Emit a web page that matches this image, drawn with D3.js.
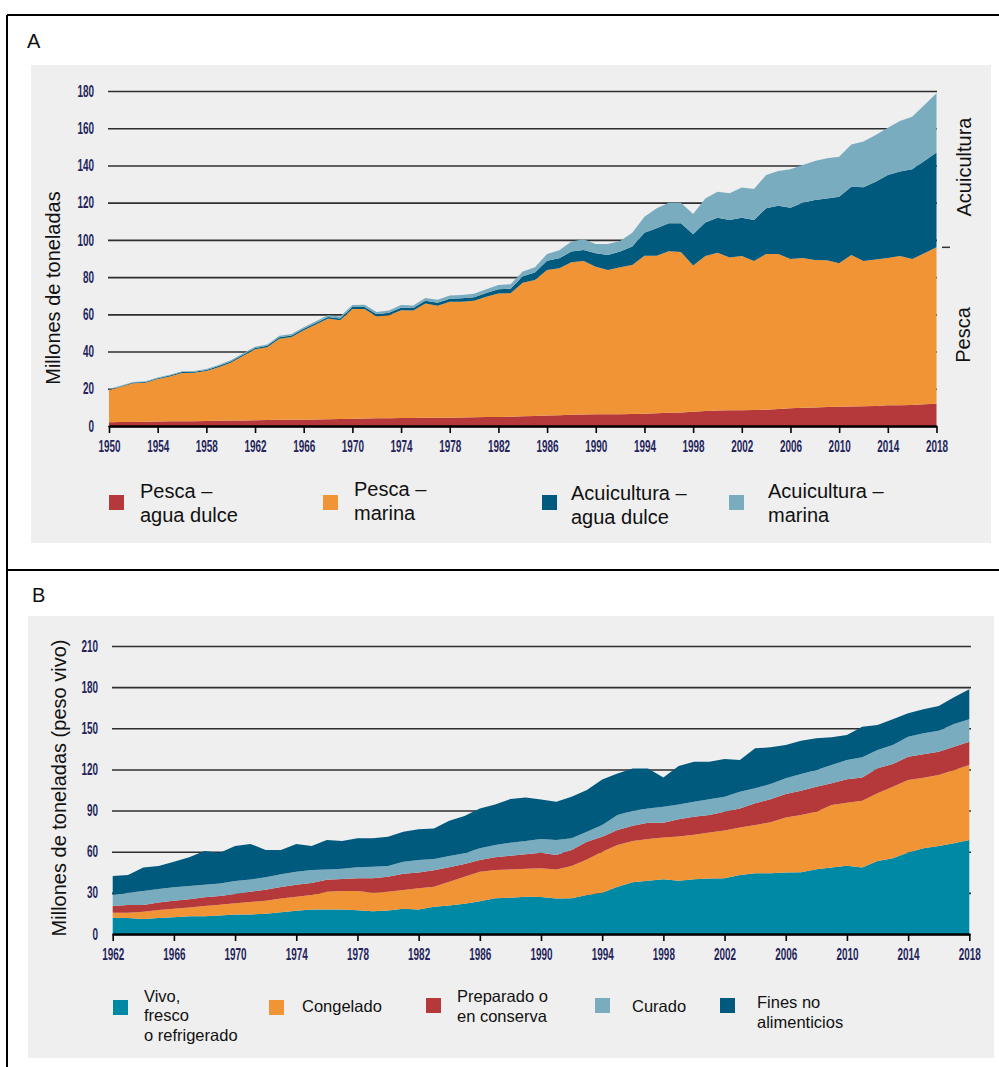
<!DOCTYPE html>
<html lang="es">
<head>
<meta charset="utf-8">
<title>Producción pesquera y acuícola mundial</title>
<script src="https://cdn.jsdelivr.net/npm/d3@7"></script>
<style>
  html, body { margin: 0; padding: 0; background: #ffffff; }
  svg { display: block; }
</style>
</head>
<body>
<svg id="chart" width="999" height="1067"></svg>
<script>
// ---------- Panel A: producción por origen (millones de toneladas), 1950–2018 ----------
const yearsA = d3.range(1950, 2019);
const pescaAguaDulce = [
  2.0, 2.1, 2.2, 2.3, 2.4, 2.5, 2.6, 2.6, 2.7, 2.8,
  2.9, 3.0, 3.1, 3.2, 3.3, 3.3, 3.4, 3.5, 3.6, 3.7,
  3.9, 4.0, 4.1, 4.2, 4.3, 4.3, 4.4, 4.5, 4.5, 4.6,
  4.7, 4.8, 4.9, 5.0, 5.2, 5.4, 5.6, 5.8, 6.0, 6.2,
  6.3, 6.3, 6.3, 6.4, 6.6, 6.9, 7.1, 7.3, 7.7, 8.0,
  8.3, 8.4, 8.5, 8.6, 8.7, 9.2, 9.5, 9.8, 10.0, 10.2,
  10.4, 10.5, 10.6, 10.7, 11.1, 11.2, 11.3, 11.7, 11.9
];
const pescaMarina = [
  17.3, 19.0, 20.8, 21.0, 22.9, 24.1, 25.9, 26.0, 26.8, 28.8,
  31.1, 34.6, 38.1, 39.1, 43.6, 44.5, 48.0, 51.0, 54.1, 53.1,
  58.9, 58.8, 54.7, 55.3, 57.9, 57.7, 61.4, 60.1, 62.2, 62.2,
  62.6, 64.6, 66.3, 66.3, 71.8, 73.1, 78.2, 78.9, 82.0, 82.5,
  79.3, 77.5, 79.0, 80.1, 84.9, 84.6, 86.8, 86.2, 78.5, 83.3,
  84.8, 82.2, 82.8, 80.1, 83.7, 83.2, 80.2, 80.5, 79.2, 78.8,
  77.0, 81.4, 78.1, 78.8, 79.2, 80.1, 78.4, 81.1, 84.1
];
const acuiAguaDulce = [
  0.3, 0.3, 0.4, 0.4, 0.4, 0.5, 0.5, 0.5, 0.6, 0.6,
  0.7, 0.7, 0.7, 0.8, 0.8, 0.8, 0.9, 0.9, 0.9, 1.0,
  1.1, 1.1, 1.2, 1.3, 1.4, 1.4, 1.5, 1.6, 1.7, 1.8,
  1.9, 2.1, 2.3, 2.5, 3.4, 4.0, 5.0, 5.4, 5.7, 5.9,
  7.2, 8.1, 8.4, 9.9, 12.4, 14.7, 15.0, 15.4, 16.8, 18.0,
  18.8, 20.1, 20.6, 22.0, 24.6, 26.0, 27.6, 29.7, 32.2, 33.3,
  35.8, 36.7, 39.6, 41.8, 44.6, 45.4, 48.2, 49.6, 50.9
];
const acuiMarina = [
  0.3, 0.3, 0.3, 0.4, 0.4, 0.4, 0.4, 0.5, 0.5, 0.6,
  0.6, 0.6, 0.7, 0.7, 0.8, 0.8, 0.8, 0.9, 0.9, 1.0,
  1.1, 1.2, 1.3, 1.3, 1.4, 1.4, 1.5, 1.6, 1.7, 1.8,
  1.9, 2.0, 2.2, 2.4, 2.6, 2.8, 3.6, 4.4, 5.4, 5.8,
  5.0, 5.9, 5.7, 7.5, 8.6, 10.8, 11.1, 11.1, 10.9, 13.0,
  14.0, 14.3, 16.2, 16.7, 17.9, 18.6, 20.6, 20.2, 21.0, 21.5,
  21.5, 22.7, 24.5, 25.1, 25.4, 27.2, 28.3, 30.1, 31.9
];
const ticksYA = [0, 20, 40, 60, 80, 100, 120, 140, 160, 180];
const ticksXA = d3.range(1950, 2019, 4);

// ---------- Panel B: utilización (millones de toneladas, peso vivo), 1962–2018 ----------
const yearsB = d3.range(1962, 2019);
const vivoFresco = [
  11.9, 11.7, 10.9, 11.7, 12.2, 12.9, 12.9, 13.5, 14.2, 14.2,
  14.7, 15.9, 16.9, 17.9, 17.9, 17.9, 17.4, 16.5, 17.2, 18.4,
  17.9, 19.8, 20.8, 22.0, 23.9, 26.1, 26.4, 27.1, 27.0, 25.8,
  26.0, 28.4, 30.1, 34.5, 37.7, 38.9, 39.9, 38.9, 39.9, 40.4,
  40.6, 43.1, 44.3, 44.3, 44.8, 45.0, 47.2, 48.5, 49.7, 48.5,
  53.3, 55.2, 59.4, 62.5, 64.2, 66.1, 68.6
];
const congelado = [
  3.6, 3.8, 5.4, 5.8, 6.3, 6.5, 7.5, 7.9, 8.2, 9.1,
  9.6, 9.9, 10.3, 10.5, 12.9, 13.4, 13.9, 13.6, 13.6, 13.7,
  15.4, 14.7, 17.3, 19.8, 21.5, 20.6, 20.7, 20.5, 21.0, 21.3,
  23.6, 26.0, 29.9, 30.4, 30.1, 30.4, 30.4, 32.2, 32.4, 33.6,
  34.8, 34.5, 35.2, 37.2, 40.1, 41.8, 42.0, 45.6, 46.0, 48.7,
  49.3, 52.2, 52.9, 51.5, 51.7, 53.5, 54.7
];
const preparado = [
  4.9, 5.6, 4.8, 5.5, 5.8, 5.9, 6.4, 6.3, 6.8, 7.5,
  8.0, 8.4, 8.7, 8.7, 8.8, 8.8, 9.3, 10.5, 11.0, 11.8,
  11.5, 11.9, 10.5, 9.2, 8.5, 9.2, 10.0, 10.5, 11.3, 10.5,
  11.6, 12.9, 10.9, 10.9, 11.1, 11.8, 10.8, 12.5, 13.2, 12.8,
  13.8, 14.0, 15.8, 16.7, 17.2, 17.7, 18.2, 15.8, 17.1, 17.0,
  18.2, 16.5, 17.0, 17.0, 17.0, 17.0, 16.9
];
const curado = [
  8.0, 9.0, 10.2, 9.8, 9.7, 9.7, 9.1, 9.2, 9.4, 9.0,
  9.0, 9.3, 9.5, 9.6, 7.5, 7.5, 8.0, 8.5, 7.8, 8.8,
  9.1, 8.3, 8.3, 7.8, 8.6, 9.0, 9.5, 9.7, 9.9, 10.9,
  8.6, 7.3, 8.6, 11.0, 11.0, 10.5, 11.7, 10.9, 11.0, 11.4,
  10.9, 12.2, 10.9, 11.2, 11.4, 12.1, 12.2, 13.3, 14.1, 14.6,
  13.4, 13.9, 14.6, 15.3, 15.3, 16.5, 16.3
];
const finesNoAlimenticios = [
  13.9, 12.9, 17.1, 16.8, 18.7, 20.9, 24.6, 22.4, 25.6, 25.9,
  20.0, 17.8, 20.3, 17.5, 21.4, 20.2, 21.2, 20.7, 21.4, 21.9,
  22.4, 22.3, 25.7, 27.2, 29.1, 29.6, 31.8, 31.8, 28.8, 28.0,
  30.3, 30.4, 33.2, 30.3, 30.8, 29.1, 21.4, 28.0, 29.1, 27.4,
  27.5, 23.1, 29.2, 26.7, 24.3, 24.4, 23.1, 20.2, 18.2, 22.4,
  18.2, 18.7, 17.0, 17.6, 18.1, 19.5, 21.9
];
const ticksYB = [0, 30, 60, 90, 120, 150, 180, 210];
const ticksXB = d3.range(1962, 2019, 4);

// ---------- Colours & fonts ----------
const C = {
  red: "#b5383a",
  orange: "#f09436",
  navy: "#005a7e",
  sky: "#7aacc0",
  teal: "#0089a4",
  panel: "#efefef",
  tick: "#24245a"
};
const SANS = "'Liberation Sans', Arial, Helvetica, sans-serif";
const TICK_SIZE = 16;
const TICK_SCALE = 0.62;   // horizontal squeeze for the condensed tick numerals

const svg = d3.select("#chart");

// white page
svg.append("rect").attr("width", 999).attr("height", 1067).attr("fill", "#fff");

// ---------- shared drawing helpers ----------
function drawGrid(g, y, ticks, x0, x1) {
  const axis = d3.axisLeft(y).tickValues(ticks).tickSize(-(x1 - x0)).tickPadding(14);
  const ga = g.append("g").attr("transform", `translate(${x0},0)`).call(axis);
  ga.select(".domain").remove();
  ga.selectAll(".tick line").attr("stroke", "#2e2e2e").attr("stroke-width", 1.6);
  ga.selectAll(".tick text")
    .attr("font-family", SANS).attr("font-weight", "bold").attr("font-size", TICK_SIZE)
    .attr("fill", C.tick)
    .attr("x", -14 / TICK_SCALE)
    .attr("transform", `scale(${TICK_SCALE},1)`);
}

function drawXAxis(g, x, y0, ticks) {
  const axis = d3.axisBottom(x).tickValues(ticks).tickFormat(d3.format("d"))
    .tickSize(7).tickPadding(8).tickSizeOuter(0);
  const ga = g.append("g").attr("transform", `translate(0,${y0})`).call(axis);
  ga.select(".domain").attr("stroke", "#000").attr("stroke-width", 2.6);
  ga.selectAll(".tick line").attr("stroke", "#000").attr("stroke-width", 1.6);
  ga.selectAll(".tick text")
    .attr("font-family", SANS).attr("font-weight", "bold").attr("font-size", TICK_SIZE)
    .attr("fill", C.tick)
    .attr("transform", `scale(${TICK_SCALE},1)`);
}

function drawAreas(g, rows, keys, colors, x, y) {
  const stacked = d3.stack().keys(keys)(rows);
  const area = d3.area()
    .x(d => x(d.data.year))
    .y0(d => y(d[0]))
    .y1(d => y(d[1]));
  g.append("g").selectAll("path").data(stacked).join("path")
    .attr("d", area)
    .attr("fill", (d, i) => colors[i]);
  return stacked;
}

function drawLegend(g, items) {
  items.forEach(it => {
    const li = g.append("g");
    li.append("rect").attr("x", it.x).attr("y", it.y).attr("width", 15).attr("height", 15)
      .attr("fill", it.color);
    const t = li.append("text").attr("font-family", SANS).attr("font-size", it.size)
      .attr("fill", "#111");
    it.lines.forEach((ln, k) => {
      t.append("tspan").attr("x", it.tx).attr("y", it.ty + k * it.lh).text(ln);
    });
  });
}

// ---------- frame ----------
const frame = svg.append("g").attr("stroke", "#000").attr("stroke-width", 2);
frame.append("line").attr("x1", 7).attr("x2", 999).attr("y1", 15).attr("y2", 15);
frame.append("line").attr("x1", 7).attr("x2", 7).attr("y1", 15).attr("y2", 1067);
frame.append("line").attr("x1", 7).attr("x2", 999).attr("y1", 570).attr("y2", 570);

// =================== PANEL A ===================
const gA = svg.append("g");
gA.append("text").attr("x", 27).attr("y", 48).attr("font-family", SANS).attr("font-size", 20)
  .attr("fill", "#111").text("A");
gA.append("rect").attr("x", 31).attr("y", 65).attr("width", 960).attr("height", 478).attr("fill", C.panel);

const xA = d3.scaleLinear().domain([1950, 2018]).range([109, 936.5]);
const yA = d3.scaleLinear().domain([0, 180]).range([426, 91]);

drawGrid(gA, yA, ticksYA, 108, 937);

const rowsA = yearsA.map((yr, i) => ({
  year: yr,
  pd: pescaAguaDulce[i],
  pm: pescaMarina[i],
  ad: acuiAguaDulce[i],
  am: acuiMarina[i]
}));
drawAreas(gA, rowsA, ["pd", "pm", "ad", "am"], [C.red, C.orange, C.navy, C.sky], xA, yA);
drawXAxis(gA, xA, 426, ticksXA);

gA.append("text")
  .attr("transform", "translate(60,288) rotate(-90)")
  .attr("text-anchor", "middle").attr("font-family", SANS).attr("font-size", 20).attr("fill", "#111")
  .text("Millones de toneladas");

// right-hand grouping labels
const last = yearsA.length - 1;
const pescaTotal2018 = pescaAguaDulce[last] + pescaMarina[last];
gA.append("line").attr("x1", 942).attr("x2", 950)
  .attr("y1", yA(pescaTotal2018)).attr("y2", yA(pescaTotal2018))
  .attr("stroke", "#333").attr("stroke-width", 1.5);
gA.append("text")
  .attr("transform", "translate(971,167) rotate(-90)")
  .attr("text-anchor", "middle").attr("font-family", SANS).attr("font-size", 20).attr("fill", "#111")
  .text("Acuicultura");
gA.append("text")
  .attr("transform", "translate(970,335) rotate(-90)")
  .attr("text-anchor", "middle").attr("font-family", SANS).attr("font-size", 20).attr("fill", "#111")
  .text("Pesca");

drawLegend(gA, [
  { x: 109, y: 495, color: C.red, tx: 140, ty: 498, lh: 24, size: 20, lines: ["Pesca –", "agua dulce"] },
  { x: 323, y: 495, color: C.orange, tx: 354, ty: 496, lh: 24, size: 20, lines: ["Pesca –", "marina"] },
  { x: 542, y: 495, color: C.navy, tx: 571, ty: 500, lh: 23.5, size: 20, lines: ["Acuicultura –", "agua dulce"] },
  { x: 729, y: 495, color: C.sky, tx: 768, ty: 498, lh: 24, size: 20, lines: ["Acuicultura –", "marina"] }
]);

// =================== PANEL B ===================
const gB = svg.append("g");
gB.append("text").attr("x", 32).attr("y", 602).attr("font-family", SANS).attr("font-size", 20)
  .attr("fill", "#111").text("B");
gB.append("rect").attr("x", 28).attr("y", 616).attr("width", 966).attr("height", 442).attr("fill", C.panel);

const xB = d3.scaleLinear().domain([1962, 2018]).range([112.7, 969.3]);
const yB = d3.scaleLinear().domain([0, 210]).range([934, 646]);

drawGrid(gB, yB, ticksYB, 112, 971);

const rowsB = yearsB.map((yr, i) => ({
  year: yr,
  vf: vivoFresco[i],
  co: congelado[i],
  pr: preparado[i],
  cu: curado[i],
  fn: finesNoAlimenticios[i]
}));
drawAreas(gB, rowsB, ["vf", "co", "pr", "cu", "fn"], [C.teal, C.orange, C.red, C.sky, C.navy], xB, yB);
drawXAxis(gB, xB, 934, ticksXB);

gB.append("text")
  .attr("transform", "translate(66,788) rotate(-90)")
  .attr("text-anchor", "middle").attr("font-family", SANS).attr("font-size", 20).attr("fill", "#111")
  .text("Millones de toneladas (peso vivo)");

drawLegend(gB, [
  { x: 113, y: 1000, color: C.teal, tx: 144, ty: 1001.5, lh: 19.5, size: 16.5, lines: ["Vivo,", "fresco", "o refrigerado"] },
  { x: 269, y: 1000, color: C.orange, tx: 302, ty: 1012, lh: 19.5, size: 16.5, lines: ["Congelado"] },
  { x: 426, y: 998, color: C.red, tx: 457, ty: 1002, lh: 20, size: 16.5, lines: ["Preparado o", "en conserva"] },
  { x: 595, y: 998, color: C.sky, tx: 632, ty: 1012, lh: 19.5, size: 16.5, lines: ["Curado"] },
  { x: 720, y: 998, color: C.navy, tx: 757, ty: 1008, lh: 20, size: 16.5, lines: ["Fines no", "alimenticios"] }
]);
</script>
</body>
</html>
